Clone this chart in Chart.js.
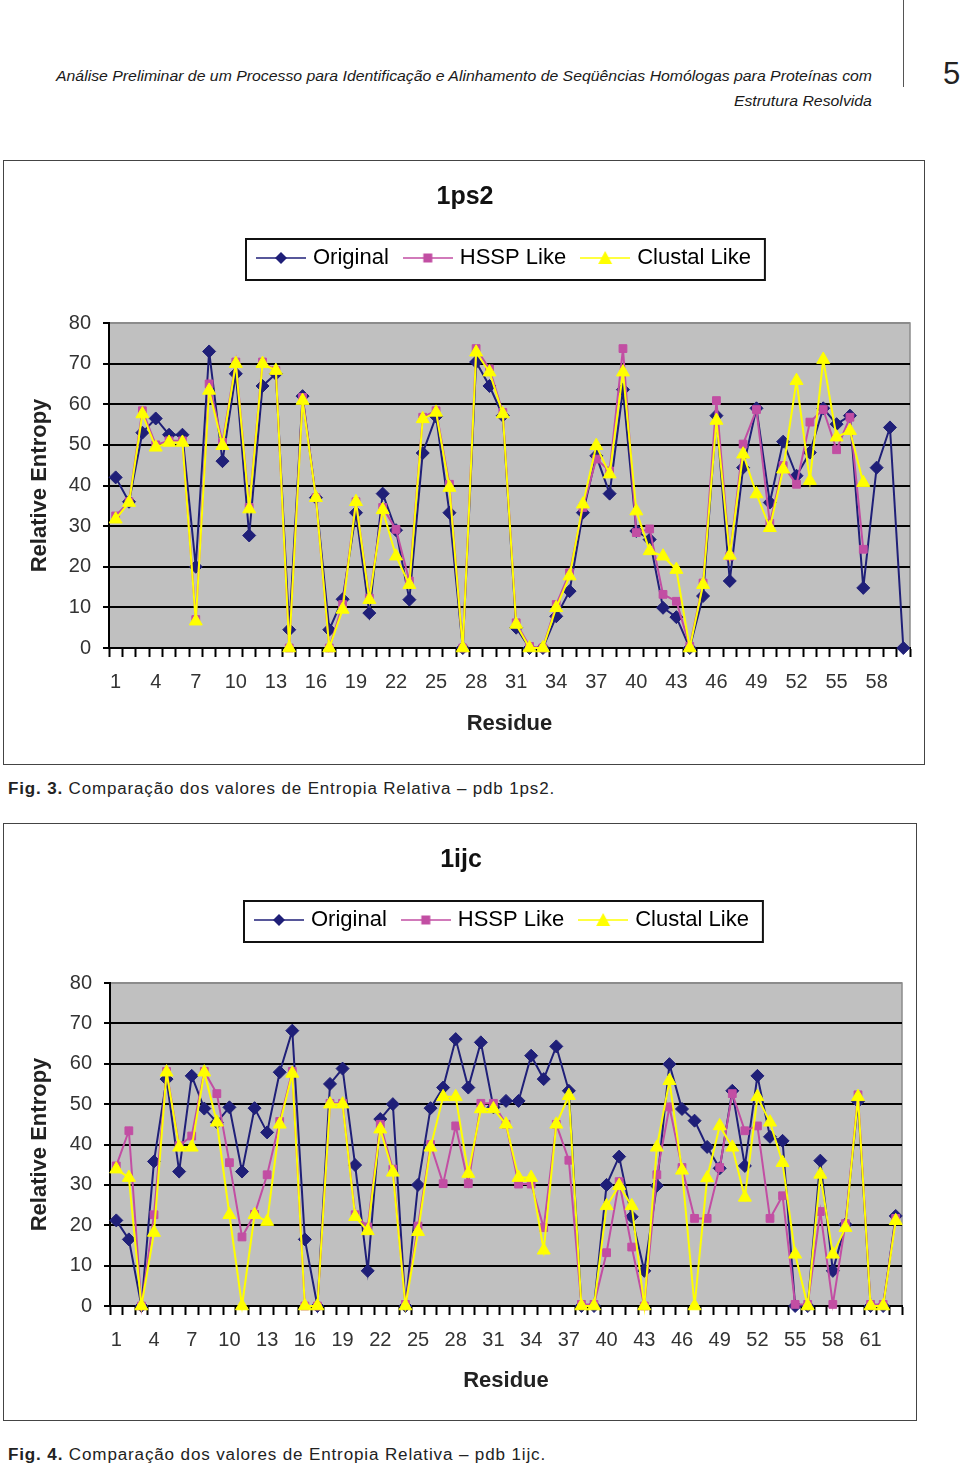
<!DOCTYPE html>
<html>
<head>
<meta charset="utf-8">
<script src="https://cdn.jsdelivr.net/npm/chart.js@4.4.1/dist/chart.umd.min.js"></script>
<style>
  body { margin: 0; width: 960px; height: 1467px; background: #fff; position: relative; overflow: hidden;
         font-family: "Liberation Sans", Arial, sans-serif; }
  .head { position: absolute; right: 88px; font-style: italic; font-size: 15px; line-height: 20px;
          color: #1a1a1a; white-space: nowrap; transform-origin: right center; }
  .rule { position: absolute; left: 903px; top: 0; width: 1px; height: 87px; background: #555; }
  .page { position: absolute; left: 943px; top: 56px; font-size: 31px; line-height: 36px; color: #222; }
  .frame { position: absolute; border: 1px solid #444; }
  .frame canvas { display: block; }
  .caption { position: absolute; left: 8px; font-size: 16px; line-height: 20px; letter-spacing: 0.8px;
             color: #222; white-space: nowrap; transform-origin: left center; }
</style>
</head>
<body>
<div class="head" id="head1" style="top:66px">Análise Preliminar de um Processo para Identificação e Alinhamento de Seqüências Homólogas para Proteínas com</div>
<div class="head" id="head2" style="top:91px">Estrutura Resolvida</div>
<div class="rule"></div>
<div class="page">5</div>

<div class="frame" style="left:3px; top:160px;"><canvas id="chart1ps2" width="920" height="603"></canvas></div>
<div class="caption" id="cap1" style="top:779px"><b>Fig. 3.</b> Comparação dos valores de Entropia Relativa – pdb 1ps2.</div>

<div class="frame" style="left:3px; top:823px;"><canvas id="chart1ijc" width="912" height="596"></canvas></div>
<div class="caption" id="cap2" style="top:1445px"><b>Fig. 4.</b> Comparação dos valores de Entropia Relativa – pdb 1ijc.</div>

<script>
// relative entropy per residue - pdb 1ps2
const original1ps2 = [42, 36, 53, 56.5, 52.5, 52.5, 20, 73, 46, 67.5, 27.7, 64.5, 67.5, 4.5, 62, 37, 4.5, 12, 33.3, 8.6,
  38, 29, 11.9, 48, 57, 33.3, 0, 70.4, 64.5, 57.2, 5, 0, 0, 7.8, 14, 33.3, 47.3, 38, 63.6, 28.8,
  26.7, 9.9, 7.6, 0, 12.8, 57.2, 16.5, 44.4, 59, 35.8, 50.8, 42.4, 48.1, 59, 55.1, 57.2, 14.8, 44.4, 54.3, 0];
const hssp1ps2 = [32.5, 36, 58.4, 50, 51, 51, 7, 65, 50.6, 70.4, 34.6, 70.4, 68.3, 0, 61.7, 37, 0, 10.7, 36, 12.3,
  34.6, 29.2, 16.5, 56.8, 58.4, 40.3, 0, 73.7, 68.7, 58, 6.2, 0.4, 0, 10.7, 18.5, 34.6, 46.5, 43.6, 73.7, 28.4,
  29.3, 13.2, 11.5, 0.4, 16, 60.9, 22.6, 50.2, 58.7, 30.7, 44.9, 40.3, 55.6, 58.7, 48.8, 56.8, 24.3, null, null, null];
const clustal1ps2 = [31.7, 35.8, 57.6, 49.4, 50.6, 50.6, 6.6, 63.4, 49.8, 70, 34.2, 70, 68.3, 0, 60.9, 37, 0, 9.5, 36, 11.9,
  34, 22.6, 15.6, 56.4, 58, 39.5, 0, 72.8, 67.9, 57.6, 5.8, 0, 0, 9.9, 17.7, 35.4, 49.8, 42.8, 67.9, 33.7,
  23.9, 22.6, 19.3, 0, 15.6, 56, 22.8, 47.7, 37.9, 29.6, 44, 65.8, 41.2, 71, 51.9, 53.5, 40.7, null, null, null];

// pdb 1ijc
const original1ijc = [21.2, 16.5, 0, 35.8, 56.2, 33.3, 57, 48.9, 45.5, 49.2, 33.3, 49, 43, 57.9, 68.2, 16.5, 0, 55, 58.8, 34.9,
  8.7, 46.3, 50, 0, 30, 49, 54.1, 66.1, 54.1, 65.3, 49.2, 50.8, 50.8, 62, 56.2, 64.3, 53.3, 0, 0, 30,
  37, 22.1, 8.7, 29.8, 59.9, 48.8, 45.9, 39.4, 34.1, 53.3, 34.7, 57, 41.9, 40.9, 0, 0, 36, 8.7, 20.2, 50.7,
  0, 0, 22.3];
const hssp1ijc = [34.7, 43.4, 0, 22.6, 58.1, 39.7, 42.1, 58.1, 52.6, 35.5, 17.1, 22.7, 32.5, 45.7, 58.1, 0, 0, 50.2, 50.2, 22.6,
  19.6, 45, 33.9, 0.4, 19.8, 40, 30.3, 44.6, 30.3, 50.2, 50.2, 45, 30.2, 30.2, 19.4, 45, 36.1, 0.4, 0.4, 13.2,
  30.8, 14.6, 0, 32.5, 49.3, 34.3, 21.7, 21.7, 34.3, 52.6, 43.4, 44.6, 21.7, 27.3, 0.4, 0.4, 23.4, 0.4, 20.4, 52.3,
  0.4, 0.4, 21.7];
const clustal1ijc = [33.9, 31.8, 0, 18.2, 57.9, 39.3, 39.3, 57.9, 45.5, 22.6, 0, 22.6, 20.9, 45, 57.6, 0, 0, 50, 50, 22.1,
  18.6, 43.8, 33.1, 0, 18.4, 39.3, 51.8, 51.8, 32.8, 48.8, 48.8, 45, 31.8, 31.8, 13.8, 45, 52.1, 0, 0, 24.8,
  29.8, 24.8, 0, 39.3, 55.8, 33.6, 0, 31.7, 44.6, 39.3, 26.9, 51.8, 45.5, 35.5, 12.8, 0, 32.6, 12.8, 19.4, 51.8,
  0, 0, 21.1];

const seriesNames = ['Original', 'HSSP Like', 'Clustal Like'];
const entropyMin = 0, entropyMax = 80, entropyStep = 10;
const labelEvery = 3;

const FONT = '"Liberation Sans", Arial, sans-serif';
const lineColors = ['#1f1f78', '#c24ea3', '#ffff00'];
const markers = ['rectRot', 'rect', 'triangle'];
const markerRadius = [6.5, 5.5, 7.5];

// small canvas with line + marker, used as the legend symbol
function legendIcon(color, marker) {
    const c = document.createElement('canvas');
    c.width = 50;
    c.height = 18;
    const g = c.getContext('2d');
    g.strokeStyle = color;
    g.lineWidth = 1.5;
    g.beginPath();
    g.moveTo(0, 9);
    g.lineTo(50, 9);
    g.stroke();
    g.fillStyle = color;
    g.beginPath();
    if (marker === 'rectRot') {
        g.moveTo(25, 3); g.lineTo(31, 9); g.lineTo(25, 15); g.lineTo(19, 9);
    } else if (marker === 'rect') {
        g.rect(20.5, 4.5, 9, 9);
    } else {
        g.moveTo(25, 2); g.lineTo(32, 15); g.lineTo(18, 15);
    }
    g.closePath();
    g.fill();
    return c;
}

// grey plot area like the Excel original
const plotBg = {
    id: 'plotBg',
    beforeDraw(chart) {
        const { ctx, chartArea: a } = chart;
        ctx.save();
        ctx.fillStyle = '#c0c0c0';
        ctx.fillRect(a.left, a.top, a.width, a.height);
        ctx.strokeStyle = '#8c8c8c';
        ctx.lineWidth = 1.5;
        ctx.strokeRect(a.left, a.top, a.width, a.height);
        ctx.restore();
    }
};

// boxed legend, shifted to its place, with extra space below it
const legendFrame = {
    id: 'legendFrame',
    beforeInit(chart, args, opts) {
        const lg = chart.legend;
        const fit = lg.fit;
        lg.fit = function () {
            fit.call(this);
            this.height += opts.gap;
        };
        const draw = lg.draw;
        lg.draw = function (area) {
            const boxes = this.legendHitBoxes;
            if (!boxes || !boxes.length) return draw.call(this, area);
            const minL = Math.min(...boxes.map(b => b.left));
            const maxR = Math.max(...boxes.map(b => b.left + b.width));
            const top = boxes[0].top;
            const h = boxes[0].height;
            // icon image is wider than the legend box, so it sticks out 4px on the left
            const dx = opts.frameLeft + 14 - minL;
            const ctx = this.ctx;
            ctx.save();
            ctx.translate(dx, 0);
            draw.call(this, area);
            ctx.strokeStyle = '#111';
            ctx.lineWidth = 2;
            ctx.strokeRect(minL - 14, top - 8, maxR - minL + 28, h + 19);
            ctx.restore();
        };
    }
};

function makeChart(canvasId, title, series, L) {
    const residues = series[0].map((v, i) => String(i + 1));
    const datasets = series.map((data, i) => ({
        label: seriesNames[i],
        data: data,
        borderColor: lineColors[i],
        backgroundColor: lineColors[i],
        pointBackgroundColor: lineColors[i],
        pointBorderColor: lineColors[i],
        pointStyle: markers[i],
        pointRadius: markerRadius[i],
        pointBorderWidth: 1,
        borderWidth: 2,
        tension: 0,
        clip: false,
        order: 3 - i
    }));

    return new Chart(document.getElementById(canvasId), {
        type: 'line',
        data: { labels: residues, datasets: datasets },
        plugins: [plotBg, legendFrame],
        options: {
            responsive: false,
            animation: false,
            devicePixelRatio: 1,
            layout: { padding: { left: L.padLeft, right: L.padRight, top: 0, bottom: 0 } },
            plugins: {
                tooltip: { enabled: false },
                title: {
                    display: true,
                    text: title,
                    color: '#111',
                    font: { family: FONT, size: 25, weight: 'bold' },
                    padding: { top: L.titleTop, bottom: L.titleBottom }
                },
                legend: {
                    display: true,
                    position: 'top',
                    labels: {
                        usePointStyle: true,
                        pointStyleWidth: 42,
                        padding: 18,
                        color: '#1a1a1a',
                        font: { family: FONT, size: 22 },
                        generateLabels: chart => chart.data.datasets.map((ds, i) => ({
                            text: ds.label,
                            pointStyle: legendIcon(lineColors[i], markers[i]),
                            fillStyle: ds.borderColor,
                            strokeStyle: ds.borderColor,
                            lineWidth: 0,
                            hidden: false,
                            datasetIndex: i
                        }))
                    }
                },
                legendFrame: { gap: L.legendGap, frameLeft: L.frameLeft }
            },
            scales: {
                x: {
                    type: 'category',
                    offset: true,
                    grid: { offset: true, drawOnChartArea: false, tickLength: 9, tickColor: '#000', tickWidth: 2, color: '#000' },
                    border: { color: '#000', width: 2 },
                    ticks: {
                        autoSkip: false,
                        maxRotation: 0,
                        color: '#333',
                        padding: 13,
                        font: { family: FONT, size: 20 },
                        callback: function (value, index) {
                            return index % labelEvery === 0 ? this.getLabelForValue(value) : '';
                        }
                    },
                    title: {
                        display: true,
                        text: 'Residue',
                        color: '#222',
                        font: { family: FONT, size: 22, weight: 'bold' },
                        padding: { top: 0, bottom: L.xTitleBottom }
                    },
                    afterFit: scale => { scale.height = L.xHeight; }
                },
                y: {
                    min: entropyMin,
                    max: entropyMax,
                    ticks: {
                        stepSize: entropyStep,
                        color: '#333',
                        padding: 12,
                        font: { family: FONT, size: 20 }
                    },
                    grid: {
                        color: ctx => (ctx.tick && ctx.tick.value === entropyMax ? '#8c8c8c' : '#000'),
                        lineWidth: 2,
                        tickLength: 6,
                        tickColor: '#000'
                    },
                    border: { color: '#000', width: 2 },
                    title: {
                        display: true,
                        text: 'Relative Entropy',
                        color: '#222',
                        font: { family: FONT, size: 22, weight: 'bold' },
                        padding: { top: 7, bottom: 0 }
                    },
                    afterFit: scale => { scale.width = L.yWidth; }
                }
            }
        }
    });
}

makeChart('chart1ps2', '1ps2', [original1ps2, hssp1ps2, clustal1ps2], {
    padLeft: 16, padRight: 14, titleTop: 21, titleBottom: 17, legendGap: 44, frameLeft: 242,
    xHeight: 116, xTitleBottom: 27, yWidth: 89
});
makeChart('chart1ijc', '1ijc', [original1ijc, hssp1ijc, clustal1ijc], {
    padLeft: 16, padRight: 14, titleTop: 21, titleBottom: 16, legendGap: 42, frameLeft: 240,
    xHeight: 114, xTitleBottom: 26, yWidth: 90
});

// stretch the running texts to the widths they have on the page
function fitWidth(el, target) {
    const w = el.getBoundingClientRect().width;
    const k = target / w;
    el.style.transform = 'scaleX(' + k + ')';
    return k;
}
const headScale = fitWidth(document.getElementById('head1'), 816);
document.getElementById('head2').style.transform = 'scaleX(' + headScale + ')';
fitWidth(document.getElementById('cap1'), 547);
fitWidth(document.getElementById('cap2'), 538);
</script>
</body>
</html>
